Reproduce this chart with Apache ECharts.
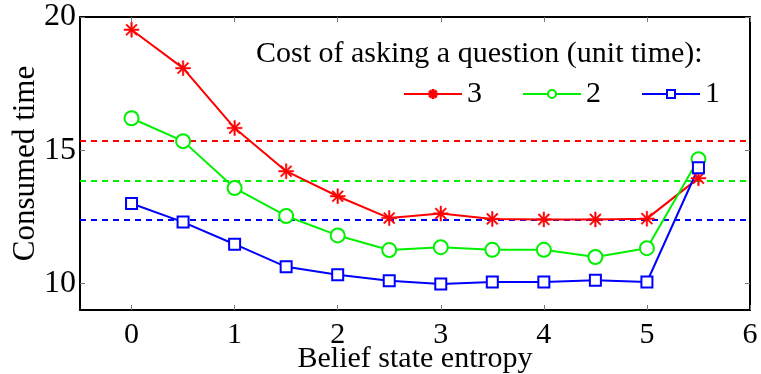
<!DOCTYPE html>
<html>
<head>
<meta charset="utf-8">
<script src="https://cdn.jsdelivr.net/npm/echarts@6/dist/echarts.min.js"></script>
<style>
  html, body { margin: 0; padding: 0; background: #fff; }
  #chart { width: 761px; height: 374px; }
</style>
</head>
<body>
<div id="chart"></div>
<script>
// Belief state entropy values (x)
const entropy = [0, 0.5, 1, 1.5, 2, 2.5, 3, 3.5, 4, 4.5, 5, 5.5];

// Consumed time per question cost
const cost3 = [19.52, 18.08, 15.83, 14.21, 13.27, 12.45, 12.62, 12.42, 12.40, 12.40, 12.43, 13.95];
const cost2 = [16.20, 15.34, 13.58, 12.53, 11.80, 11.25, 11.36, 11.26, 11.26, 10.99, 11.32, 14.66];
const cost1 = [13.00, 12.30, 11.47, 10.62, 10.32, 10.10, 9.98, 10.05, 10.05, 10.12, 10.05, 14.34];

// Reference levels (dashed lines) for costs 3, 2, 1
const baseline = [15.34, 13.84, 12.38];

const seriesNames = ['3', '2', '1'];
const seriesColors = ['#ff0000', '#00f000', '#0000ff'];

const xTicks = [0, 1, 2, 3, 4, 5, 6];
const yTicks = [10, 15, 20];

const FONT = 'Liberation Serif';

// eight-armed asterisk marker
const asterisk = 'path://' +
  'M-1,-10 L1,-10 L1,10 L-1,10 Z ' +
  'M-10,-1 L10,-1 L10,1 L-10,1 Z ' +
  'M-6.36,-7.78 L7.78,6.36 L6.36,7.78 L-7.78,-6.36 Z ' +
  'M-7.78,6.36 L6.36,-7.78 L7.78,-6.36 L-6.36,7.78 Z';

const symbols = [asterisk, 'emptyCircle', 'emptyRect'];
const symbolSizes = [15, 14, 11];
const values = [cost3, cost2, cost1];

const series = values.map((vals, i) => ({
  name: seriesNames[i],
  type: 'line',
  data: entropy.map((x, k) => [x, vals[k]]),
  symbol: symbols[i],
  symbolSize: symbolSizes[i],
  showAllSymbol: true,
  lineStyle: { color: seriesColors[i], width: 2 },
  itemStyle: i === 0
    ? { color: seriesColors[i], borderColor: seriesColors[i], borderWidth: 0.5 }
    : { color: seriesColors[i], borderColor: seriesColors[i], borderWidth: 2 },
  emphasis: { disabled: true },
  animation: false,
  z: 5,
  markLine: {
    silent: true,
    symbol: 'none',
    label: { show: false },
    lineStyle: { color: seriesColors[i], type: [6, 5], width: 2 },
    data: [{ yAxis: baseline[i] }],
    animation: false
  }
}));

const chart = echarts.init(document.getElementById('chart'), null, { renderer: 'canvas' });

const tickStyle = { show: true, inside: true, length: 5, lineStyle: { color: '#777', width: 1 } };

chart.setOption({
  backgroundColor: '#ffffff',
  animation: false,
  grid: { left: 80, right: 11, top: 17, bottom: 64, containLabel: false, outerBoundsMode: 'none' },
  legend: {
    data: seriesNames,
    left: 398,
    top: 74,
    itemWidth: 58,
    itemHeight: 10,
    itemGap: 40,
    selectedMode: false,
    textStyle: { fontFamily: FONT, fontSize: 30, color: '#000', padding: [0, 0, 0, 0], lineHeight: 24 }
  },
  graphic: [{
    type: 'text',
    left: 256,
    top: 39,
    style: {
      text: 'Cost of asking a question (unit time):',
      font: '30px "Liberation Serif"',
      fill: '#000'
    }
  }],
  xAxis: [{
    type: 'value',
    min: -0.5,
    max: 6,
    position: 'bottom',
    name: 'Belief state entropy',
    nameLocation: 'middle',
    nameGap: 34,
    nameMoveOverlap: false,
    nameTextStyle: { fontFamily: FONT, fontSize: 30, color: '#000', verticalAlign: 'top' },
    axisLine: { show: true, onZero: false, lineStyle: { color: '#000', width: 2 } },
    axisTick: Object.assign({ customValues: xTicks }, tickStyle),
    axisLabel: { customValues: xTicks, margin: 10, fontFamily: FONT, fontSize: 30, color: '#000' },
    splitLine: { show: false }
  }, {
    type: 'value',
    min: -0.5,
    max: 6,
    position: 'top',
    axisLine: { show: true, onZero: false, lineStyle: { color: '#000', width: 2 } },
    axisTick: Object.assign({ customValues: xTicks }, tickStyle),
    axisLabel: { show: false },
    splitLine: { show: false }
  }],
  yAxis: [{
    type: 'value',
    min: 9,
    max: 20,
    position: 'left',
    name: 'Consumed time',
    nameLocation: 'middle',
    nameGap: 39,
    nameMoveOverlap: false,
    nameTextStyle: { fontFamily: FONT, fontSize: 31, color: '#000' },
    axisLine: { show: true, onZero: false, lineStyle: { color: '#000', width: 2 } },
    axisTick: Object.assign({ customValues: yTicks }, tickStyle),
    axisLabel: { customValues: yTicks, margin: 4, fontFamily: FONT, fontSize: 32, color: '#000' },
    splitLine: { show: false }
  }, {
    type: 'value',
    min: 9,
    max: 20,
    position: 'right',
    axisLine: { show: true, onZero: false, lineStyle: { color: '#000', width: 2 } },
    axisTick: Object.assign({ customValues: yTicks }, tickStyle),
    axisLabel: { show: false },
    splitLine: { show: false }
  }],
  series: series
});
</script>
</body>
</html>
